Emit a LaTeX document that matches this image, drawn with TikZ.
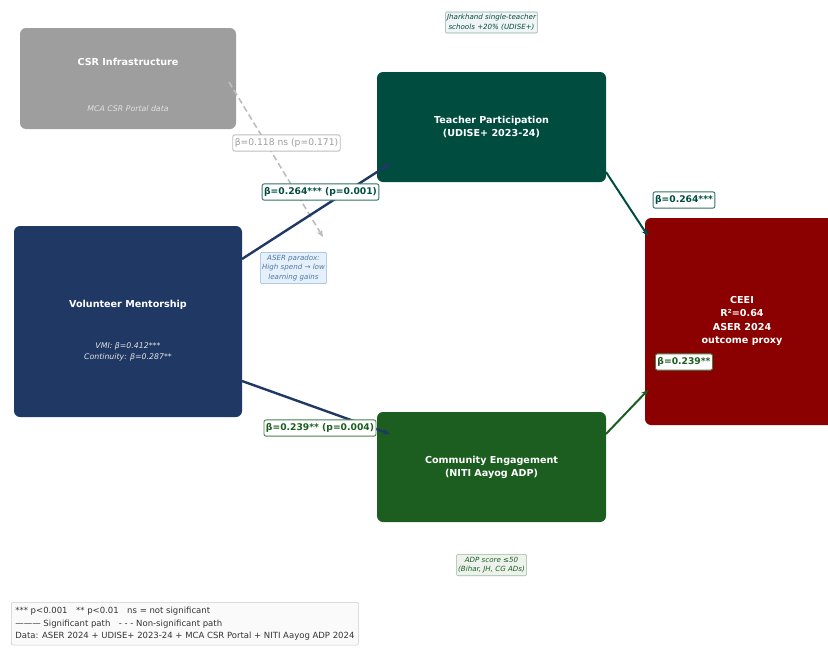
\documentclass[tikz,border=0pt]{standalone}
\usepackage{fontspec}
\setmainfont{DejaVu Sans}
\usetikzlibrary{arrows.meta}
\definecolor{csrgray}{HTML}{9E9E9E}
\definecolor{teal}{HTML}{004D40}
\definecolor{navy}{HTML}{1F3864}
\definecolor{cgreen}{HTML}{1B5E20}
\definecolor{ceeired}{HTML}{8B0000}
\definecolor{nsgray}{HTML}{BDBDBD}
\definecolor{nstext}{HTML}{9E9E9E}
\definecolor{pfill}{HTML}{E6F0FA}
\definecolor{pdraw}{HTML}{90B4D8}
\definecolor{ptext}{HTML}{4A78A8}
\begin{document}
\begin{tikzpicture}[x=1pt,y=-1pt,
  box/.style={rounded corners=6pt, draw=none, inner sep=0pt},
  title/.style={text=white, font=\fontsize{9.6}{13.3}\selectfont\bfseries, align=center, inner sep=0pt},
  sub/.style={font=\fontsize{7.8}{11}\selectfont\itshape, align=center, inner sep=0pt},
  elab/.style={fill=white, rounded corners=2pt, line width=0.9pt, inner xsep=2pt, inner ysep=3.6pt, font=\fontsize{9.2}{10}\selectfont\bfseries},
  note/.style={rounded corners=1pt, line width=0.6pt, inner xsep=1.5pt, inner ysep=2.5pt, font=\fontsize{7.1}{9.7}\selectfont\itshape, align=center},
  arr/.style={-{Stealth[length=7pt,width=6pt]}},
  sig/.style={line width=2.4pt, arr},
]
\useasboundingbox (0,0) rectangle (828,648);
% boxes
\node[box, fill=csrgray, minimum width=216pt, minimum height=101pt] (csr) at (128,78.5) {};
\node[title] (csrT) at (128,62) {CSR Infrastructure};
\node[sub, text=black!12] (csrS) at (128,109) {MCA CSR Portal data};

\node[box, fill=teal, minimum width=229pt, minimum height=110pt] (tp) at (491.5,127) {};
\node[title] (tpT) at (491.5,127) {Teacher Participation\\(UDISE+ 2023-24)};

\node[box, fill=navy, minimum width=228pt, minimum height=191pt] (vm) at (128,321.5) {};
\node[title] (vmT) at (128,305) {Volunteer Mentorship};
\node[sub, text=black!10] (vmS) at (128,351.5) {VMI: β=0.412***\\Continuity: β=0.287**};

\node[box, fill=cgreen, minimum width=229pt, minimum height=110pt] (ce) at (491.5,467) {};
\node[title] (ceT) at (491.5,467.5) {Community Engagement\\(NITI Aayog ADP)};

\node[box, fill=ceeired, minimum width=200pt, minimum height=207pt] (ceei) at (745,321.5) {};
\node[title] (ceeiT) at (742,321) {CEEI\\R²=0.64\\ASER 2024\\outcome proxy};

% connector end points
\coordinate (csrA) at (229,82);
\coordinate (nsEnd) at (323,237);
\coordinate (vmA) at (242,259);
\coordinate (tpIn) at (391,163);
\coordinate (vmB) at (242,381);
\coordinate (ceIn) at (390,434);
\coordinate (tpA) at (606,172);
\coordinate (ceeiA) at (648,236);
\coordinate (ceA) at (606,434);
\coordinate (ceeiB) at (648,390);

% connectors
\draw[nsgray, line width=1.6pt, dash pattern=on 6pt off 3.5pt, arr] (csrA) -- (nsEnd);
\draw[sig, navy] (vmA) -- (tpIn);
\draw[sig, navy] (vmB) -- (ceIn);
\draw[teal, line width=2pt, arr] (tpA) -- (ceeiA);
\draw[cgreen, line width=2pt, arr] (ceA) -- (ceeiB);

% edge labels
\node[elab, draw=nsgray, text=nstext, font=\fontsize{9.2}{10}\selectfont] (l0) at (286.5,143) {β=0.118 ns (p=0.171)};
\node[elab, draw=teal!80, text=teal] (l1) at (320.5,192) {β=0.264*** (p=0.001)};
\node[elab, draw=cgreen!80, text=cgreen] (l2) at (320,428) {β=0.239** (p=0.004)};
\node[elab, draw=teal!80, text=teal] (l3) at (684,200) {β=0.264***};
\node[elab, draw=cgreen!80, text=cgreen] (l4) at (684,362) {β=0.239**};

% notes
\node[note, fill=teal!6, draw=teal!45, text=teal] (n1) at (491.5,22.5) {Jharkhand single-teacher\\schools +20\% (UDISE+)};
\node[note, fill=pfill, draw=pdraw, text=ptext] (n2) at (293.5,268) {ASER paradox:\\High spend → low\\learning gains};
\node[note, fill=cgreen!8, draw=cgreen!45, text=cgreen] (n3) at (491.5,565) {ADP score ≤50\\(Bihar, JH, CG ADs)};

% legend
\node[anchor=north west, draw=black!20, fill=black!2, rounded corners=2pt, line width=0.6pt, inner xsep=4pt, inner ysep=4.5pt, align=left, text=black!80, font=\fontsize{8.5}{12.8}\selectfont] (leg) at (11,602) {*** p<0.001\quad ** p<0.01\quad ns = not significant\\——— Significant path\quad - - - Non-significant path\\Data: ASER 2024 + UDISE+ 2023-24 + MCA CSR Portal + NITI Aayog ADP 2024};
\end{tikzpicture}
\end{document}
